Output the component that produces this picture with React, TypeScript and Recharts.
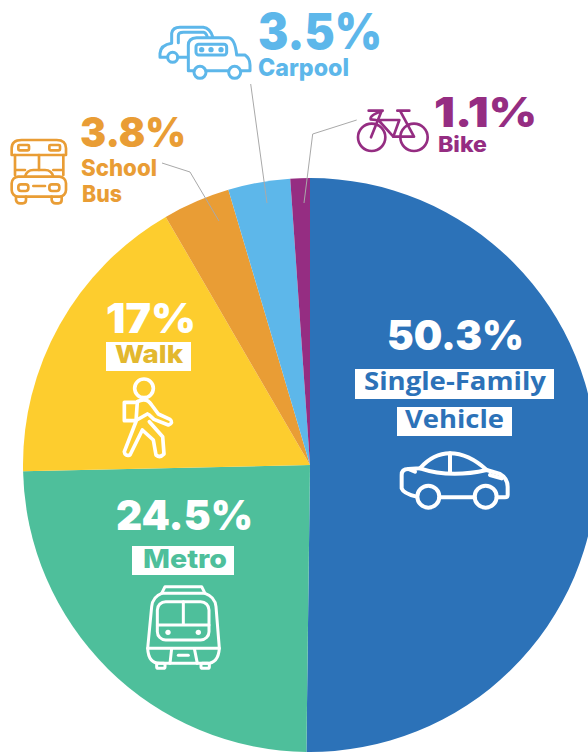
import { PieChart, Pie, Cell } from 'recharts';

// Share of commute by mode, clockwise from 12 o'clock
const categories = ['Single-Family Vehicle', 'Metro', 'Walk', 'School Bus', 'Carpool', 'Bike'];
const shares = [50.3, 24.5, 17, 3.8, 3.5, 1.1];

const BLUE = '#2C72B8';
const GREEN = '#4EBF9B';
const YELLOW = '#FDCD2E';
const ORANGE = '#E99D35';
const SKY = '#5DB7EA';
const PURPLE = '#952D82';
const colours = [BLUE, GREEN, YELLOW, ORANGE, SKY, PURPLE];

const pieData = categories.map((name, i) => ({ name, value: shares[i] }));

const PCT_FONT = 'Inter, sans-serif';
const LABEL_FONT = 'Inter, sans-serif';

interface PctProps { i: number; x: number; y: number; size: number; w: number; fill: string }

function Pct({ i, x, y, size, w, fill }: PctProps) {
  return (
    <text x={x} y={y} fontFamily={PCT_FONT} fontWeight={900} fontSize={size} fill={fill}
      textLength={w} lengthAdjust="spacingAndGlyphs">
      {shares[i]}%
    </text>
  );
}

interface WordProps { text: string; x: number; y: number; size: number; w: number; fill: string; font?: string; weight?: number }

function Word({ text, x, y, size, w, fill, font = LABEL_FONT, weight = 800 }: WordProps) {
  return (
    <text x={x} y={y} fontFamily={font} fontWeight={weight} fontSize={size} fill={fill}
      textLength={w} lengthAdjust="spacingAndGlyphs">
      {text}
    </text>
  );
}

// icons are traced at 3x zoom, hence the scale on each group
function Icon({ x, y, colour, sw, children }: { x: number; y: number; colour: string; sw: number; children: React.ReactNode }) {
  return (
    <g transform={`translate(${x} ${y}) scale(${1 / 3})`} fill="none" stroke={colour} strokeWidth={sw}
      strokeLinecap="round" strokeLinejoin="round">
      {children}
    </g>
  );
}

function Leaders() {
  const line = { fill: 'none', stroke: '#A9A9A9', strokeWidth: 1 };
  return (
    <g>
      <polyline {...line} points="250.7,84 267,203" />
      <polyline {...line} points="162,163 190,172 219,221" />
      <polyline {...line} points="356.7,120 312.7,134 304,203" />
    </g>
  );
}

function Annotations() {
  const [vehicle1, vehicle2] = categories[0].split(' ');
  const [school, bus] = categories[3].split(' ');
  return (
    <svg width={588} height={752} style={{ position: 'absolute', left: 0, top: 0, pointerEvents: 'none' }}>
      <Leaders />

      {/* Single-Family Vehicle */}
      <Pct i={0} x={387} y={350} size={41} w={137} fill="#fff" />
      <rect x={355} y={369} width={199} height={30} fill="#fff" />
      <rect x={397} y={407} width={115} height={29} fill="#fff" />
      <Word text={vehicle1} x={364} y={390} size={25} w={182} fill={BLUE} font="'Open Sans', sans-serif" weight={700} />
      <Word text={vehicle2} x={405} y={428} size={25} w={99} fill={BLUE} font="'Open Sans', sans-serif" weight={700} />
      <Icon x={340} y={300} colour="#fff" sw={12}>
        <path d="M230 590 Q190 580 185 565 L185 525 Q185 507 205 507 L240 505 Q280 460 330 460 Q385 460 440 510 L480 522 Q503 535 503 560 L503 585 Q503 592 495 592 L470 592" />
        <path d="M298 592 L404 592" />
        <circle cx={265} cy={590} r={33} />
        <circle cx={437} cy={590} r={33} />
        <path d="M205 507 L225 515 M240 505 Q330 535 440 510 M330 460 L330 520 M450 525 L485 535" />
      </Icon>

      {/* Metro */}
      <Pct i={1} x={116} y={530} size={41} w={137} fill="#fff" />
      <rect x={132} y={546} width={102} height={29} fill="#fff" />
      <Word text={categories[1]} x={143} y={568} size={26} w={84} fill={GREEN} />
      <Icon x={100} y={485} colour="#fff" sw={9}>
        <path d="M185 325 L195 305 L305 305 L315 325 Q345 335 348 365 L358 490 Q355 535 320 535 L180 535 Q145 535 143 490 L155 365 Q158 335 185 325 Z" />
        <path d="M185 325 L315 325" />
        <rect x={172} y={350} width={155} height={115} rx={25} />
        <path d="M172 420 L327 420 M250 350 L250 420" />
        <path d="M143 490 L358 490 M215 490 L210 535 M283 490 L292 535" />
        <path d="M235 511 L265 511" />
        <circle cx={204} cy={442} r={8} fill="#fff" stroke="none" />
        <circle cx={295} cy={442} r={8} fill="#fff" stroke="none" />
        <rect x={170} y={535} width={25} height={15} rx={4} />
        <rect x={303} y={535} width={25} height={15} rx={4} />
      </Icon>

      {/* Walk */}
      <Pct i={2} x={106} y={333} size={41} w={90} fill="#fff" />
      <rect x={106} y={342} width={85} height={29} fill="#fff" />
      <Word text={categories[2]} x={115} y={363} size={25} w={68} fill="#E3B82E" />
      <Icon x={90} y={290} colour="#fff" sw={11}>
        <circle cx={162} cy={295} r={28} />
        <path d="M135 337 L103 337 L103 392 L135 392" />
        <path d="M135 393 L172 372" />
        <path d="M142 335 Q170 320 185 345 L205 372 L240 388 Q252 398 235 405 L192 388 L178 375" />
        <path d="M142 335 L138 395 L103 485 Q105 500 120 495 L157 420 L190 450 L198 495 Q210 505 222 492 L218 440 L178 395" />
      </Icon>

      {/* School Bus */}
      <Pct i={3} x={80} y={147} size={41} w={106} fill={ORANGE} />
      <Word text={school} x={81} y={176} size={23} w={76} fill={ORANGE} />
      <Word text={bus} x={82} y={202} size={23} w={40} fill={ORANGE} />
      <Icon x={0} y={0} colour={ORANGE} sw={8}>
        <path d="M35 465 L35 445 Q35 420 65 420 L170 420 Q198 420 198 445 L198 465 Z" />
        <rect x={55} y={435} width={32} height={16} rx={3} />
        <rect x={148} y={435} width={32} height={16} rx={3} />
        <path d="M45 465 L45 525 M190 465 L190 525 M117 465 L117 510 M45 510 L75 510 M160 510 L190 510" />
        <path d="M75 530 Q80 510 100 510 L135 510 Q155 510 160 530" />
        <rect x={35} y={530} width={163} height={60} rx={20} />
        <rect x={55} y={553} width={30} height={20} rx={8} />
        <rect x={148} y={553} width={30} height={20} rx={8} />
        <path d="M100 558 L135 558" />
        <path d="M48 590 L48 600 Q50 610 60 610 L68 610 Q78 610 78 600 L78 590" />
        <path d="M155 590 L155 600 Q157 610 167 610 L175 610 Q185 610 185 600 L185 590" />
      </Icon>

      {/* Carpool */}
      <Pct i={4} x={258} y={49} size={49} w={124} fill={SKY} />
      <Word text={categories[4]} x={258} y={76} size={24} w={91} fill={SKY} />
      <Icon x={0} y={0} colour={SKY} sw={9}>
        <path d="M503 172 L480 172 L480 160 Q482 135 515 130 L515 100 Q518 82 540 82 L610 82 Q630 85 638 110" />
        <path d="M535 128 L535 107 Q535 97 550 97 L612 97 Q620 100 622 112" />
        <circle cx={518} cy={172} r={15} />
        <path d="M533 172 L562 172" />
        <path d="M582 212 L565 212 L565 135 Q565 115 590 113 L685 113 Q705 115 710 165 L735 165 Q750 175 750 195 L750 212 L722 212" />
        <path d="M618 212 L686 212" />
        <circle cx={600} cy={217} r={18} />
        <circle cx={704} cy={217} r={18} />
        <rect x={588} y={133} width={92} height={32} rx={8} />
        <circle cx={605} cy={149} r={8} fill={SKY} stroke="none" />
        <circle cx={633} cy={149} r={8} fill={SKY} stroke="none" />
        <circle cx={663} cy={149} r={8} fill={SKY} stroke="none" />
      </Icon>

      {/* Bike */}
      <Pct i={5} x={434} y={127} size={41} w={103} fill={PURPLE} />
      <Word text={categories[5]} x={438} y={152} size={21} w={49} fill={PURPLE} />
      <Icon x={240} y={0} colour={PURPLE} sw={8}>
        <circle cx={395} cy={412} r={41} />
        <circle cx={522} cy={412} r={41} />
        <path d="M393 412 L425 332 M386 332 L428 332 Q388 345 392 358 L408 360" />
        <path d="M415 360 L478 360 L460 410 L415 360" />
        <path d="M460 410 L522 410 L480 332 M472 332 L508 332" />
      </Icon>
    </svg>
  );
}

export default function App() {
  return (
    <div style={{ position: 'absolute', left: 0, top: 0, width: 588, height: 752, overflow: 'hidden', background: '#fff' }}>
      <PieChart width={588} height={752} margin={{ top: 0, right: 0, bottom: 0, left: 0 }}>
        <Pie
          data={pieData}
          dataKey="value"
          nameKey="name"
          cx={310}
          cy={465}
          outerRadius={287}
          startAngle={90}
          endAngle={-270}
          stroke="none"
          isAnimationActive={false}
        >
          {pieData.map((d, i) => (
            <Cell key={d.name} fill={colours[i]} />
          ))}
        </Pie>
      </PieChart>
      <Annotations />
    </div>
  );
}
